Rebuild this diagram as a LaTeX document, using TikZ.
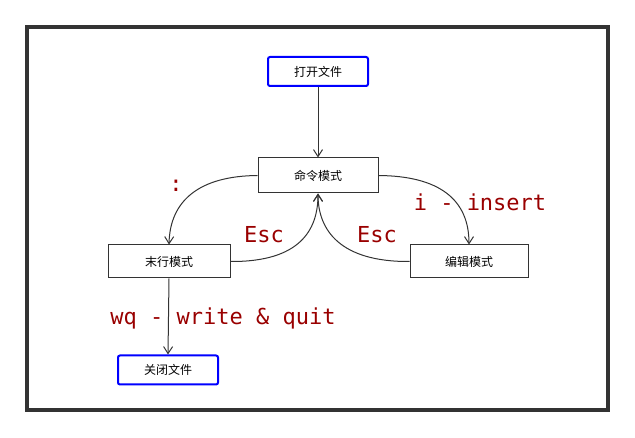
\documentclass[tikz,border=0pt]{standalone}
\usepackage{fontspec}
\newfontfamily\cjk{Noto Sans CJK SC}
\newfontfamily\lab{DejaVu Sans Mono}
\usetikzlibrary{arrows.meta}
\definecolor{lbl}{HTML}{990000}
\begin{document}
\begin{tikzpicture}[x=1pt,y=-1pt,
  box/.style={draw=black!80,line width=1pt,minimum height=33pt,font=\cjk\fontsize{12}{14}\selectfont,inner sep=0pt},
  bbox/.style={draw=blue,line width=2pt,rounded corners=2pt,minimum height=29pt,minimum width=100pt,font=\cjk\fontsize{12}{14}\selectfont,inner sep=0pt},
  arr/.style={draw=black!80,line width=1pt,-{Straight Barb[length=7pt,width=9pt]}},
  lb/.style={text=lbl,font=\lab\fontsize{22}{24}\selectfont}]
\useasboundingbox (0,0) rectangle (635,438);
\draw[line width=4pt,black!80] (27,27) rectangle (608,410);
\node[bbox] (open) at (318,71.5) {打开文件};
\node[box,minimum width=120pt,minimum height=35pt] (cmd) at (318,175.5) {命令模式};
\node[box,minimum width=122pt] (last) at (169,261.5) {末行模式};
\node[box,minimum width=118pt] (edit) at (469,261.5) {编辑模式};
\node[bbox] (close) at (168,370) {关闭文件};
\draw[arr] (open) -- (cmd);
\draw[arr] (cmd.west) .. controls (200,176) and (170,200) .. (last.north);
\draw[arr] (last.east) .. controls (300,262) and (318,230) .. (cmd.south);
\draw[arr] (edit.west) .. controls (340,262) and (318,230) .. (cmd.south);
\draw[arr] (cmd.east) .. controls (440,176) and (469,200) .. (edit.north);
\draw[arr] (last.south) -- (close.north);
\node[lb] (l1) at (176,186) {:};
\node[lb] (l2) at (264,235) {Esc};
\node[lb] (l3) at (377,235) {Esc};
\node[lb] (l4) at (480,202) {i - insert};
\node[lb] (l5) at (223,318) {wq - write \& quit};
\end{tikzpicture}
\end{document}
